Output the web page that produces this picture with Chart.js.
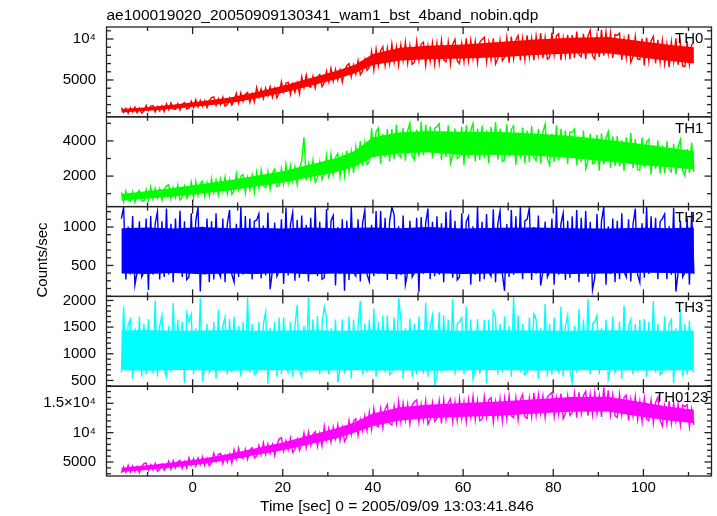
<!DOCTYPE html>
<html>
<head>
<meta charset="utf-8">
<script src="https://cdn.jsdelivr.net/npm/chart.js@4.4.0/dist/chart.umd.min.js"></script>
<style>
html,body{margin:0;padding:0;background:#ffffff;}
#wrap{width:717px;height:516px;position:relative;}
</style>
</head>
<body>
<div id="wrap"><canvas id="c" width="717" height="516"></canvas></div>
<script>
// ---- light-curve sampling (one rate value every 0.5 s) ----
const T0 = -15.8;
const DT = 0.5;

// ---- TH0 rate (counts/sec) ----
const th0Rate = [
1630,1030,1540,940,1600,1090,1690,1000,1570,970,
1200,1900,1260,1810,1870,1100,1740,1230,1840,1140,
2090,1370,2200,1480,1410,2130,1340,2060,2240,1450,
1590,2410,1670,2610,1710,2530,1790,2490,1630,2450,
2860,2950,1890,2720,1990,2910,1800,2030,2810,1940,
2430,3370,2170,3420,2380,3270,3470,2280,3320,2330,
4080,2940,3910,2770,4020,3050,4190,2880,3960,2820,
3430,4790,3550,4610,4730,3240,4480,3490,4670,3310,
5400,4060,5600,4260,4130,5470,4000,5340,5670,4200,
4650,6070,4790,6420,4860,6280,5000,6210,4720,6140,
6750,7000,5380,6830,5730,7330,5630,6100,7480,6150,
6580,8500,6200,8740,6750,8570,9060,6760,8890,6970,
9380,7140,9050,6810,9270,7370,9610,7030,9160,6920,
7160,9730,7390,9380,9620,6810,9150,7280,9500,6930,
9480,7080,9840,7440,7200,9600,6960,9360,9960,7320,
7000,9460,7250,10080,7370,9830,7620,9710,7130,9590,
9950,10210,7220,9560,7480,10080,6960,7610,9820,7350,
7770,10160,7100,10290,7630,9890,10430,7370,10030,7500,
10460,7800,10060,7400,10330,8070,10730,7670,10200,7540,
7800,10770,8070,10370,10640,7400,10100,7940,10500,7530,
10490,7690,10910,8110,7830,10630,7550,10350,11050,7970,
7530,10390,7820,11110,7960,10820,8250,10680,7680,10540,
10430,10720,7430,10000,7710,10570,7140,7860,10290,7570,
7480,10040,6770,10180,7340,9760,10320,7060,9900,7200,
9790,6990,9370,6570,9650,7270,10070,6850,9510,6710,
6630,9710,6910,9290,9570];

// ---- TH1 rate ----
const th1Rate = [
1070,530,1150,610,560,1100,510,1050,1180,590,
600,1220,660,1370,690,1310,750,1280,630,1250,
1450,1520,720,1350,790,1490,650,820,1420,750,
950,1650,760,1680,910,1570,1720,840,1610,880,
1870,1050,1750,930,1830,1130,1950,1010,1790,970,
1180,2130,1270,2000,2080,1050,1910,1220,2040,1090,
2220,1320,2350,1450,1360,2260,1270,2170,2400,1410,
1470,2430,1570,2670,1620,2580,1710,2530,1520,2480,
2840,4200,1750,2680,1850,2890,1640,1900,2790,1800,
2140,3170,1860,3230,2090,3060,3280,1970,3110,2030,
3450,2240,3390,2180,3650,2630,3980,2580,3860,2650,
2800,4720,3060,4540,4730,2700,4410,3060,4680,2820,
4670,2970,4920,3220,3050,4750,2880,4580,5010,3140,
2930,4650,3100,5080,3190,4910,3360,4820,3010,4730,
4800,4980,2910,4530,3090,4890,2730,3180,4710,3000,
3110,4800,2640,4890,3010,4610,4990,2830,4710,2920,
4880,3020,4600,2740,4790,3210,5070,2930,4700,2840,
2920,4940,3100,4670,4850,2640,4480,3010,4760,2740,
4590,2790,4860,3060,2880,4680,2700,4500,4950,2970,
2620,4420,2800,4870,2890,4690,3070,4600,2710,4510,
4500,4680,2610,4230,2790,4590,2430,2880,4410,2700,
2750,4350,2300,4440,2660,4170,4530,2480,4260,2570,
4290,2550,4030,2290,4200,2720,4460,2460,4110,2370,
2340,4190,2510,3940,4100,2090,3770,2420,4020,2170,
3750,2170,3990,2410,2250,3830,2090,3670,4070,2330,
2020,3530,2180,3910,2250];

// ---- TH2 rate ----
const th2Rate = [
1110,1260,316,1008,384,1144,248,418,1076,350,
418,1110,180,1144,384,1042,1200,316,1076,350,
1240,384,1042,282,1110,452,1212,350,1076,316,
350,1178,418,1076,1260,160,1008,384,1110,282,
1076,316,1178,418,350,1110,282,1042,1220,384,
282,1042,350,1260,384,1144,452,1110,316,1076,
1090,1170,330,1020,370,1190,190,430,1060,360,
430,1100,260,1250,370,1030,1190,300,1090,340,
1150,390,1030,290,1120,440,1260,360,1070,320,
340,1230,410,1080,1150,240,1000,390,1100,170,
1080,310,1260,410,360,1100,290,1050,1220,380,
290,1030,360,1210,390,1210,460,1120,310,1070,
1260,1160,320,1010,380,1150,250,410,1080,350,
410,1120,150,1130,390,1050,1240,320,1070,360,
1140,380,1050,280,1200,450,1220,340,1080,310,
350,1180,420,1070,1140,250,1010,380,1260,290,
1070,320,1170,410,360,1230,280,1040,1210,390,
170,1040,350,1220,380,1140,460,1260,320,1080,
1100,1250,310,1000,390,1150,240,420,1070,350,
420,1110,250,1260,380,1040,1180,310,1080,340,
1140,390,1220,280,1120,450,1210,350,1070,180,
340,1170,410,1080,1260,250,1010,390,1110,280,
1080,320,1180,420,350,1100,290,1040,1240,380,
280,1050,340,1260,390,1140,450,1120,320,1070,
1110,1170,320,1010,380,1250,160,410,1080,350,
410,1120,250,1200,390];

// ---- TH3 rate ----
const th3Rate = [
650,1880,730,1560,1640,530,1480,690,1700,570,
1560,610,1650,730,650,2000,570,1520,1720,690,
570,1520,650,1950,690,1640,770,1600,450,1760,
1600,1740,610,1480,690,2040,530,730,1560,650,
730,1600,530,1820,690,1520,1680,610,1650,650,
1700,690,1520,570,1600,770,2050,650,1560,610,
650,1600,730,1560,1780,440,1480,690,1600,570,
1680,610,1680,730,650,1600,570,1520,1920,690,
570,1520,650,2050,690,1640,770,1710,610,1560,
1880,1680,610,1480,690,1640,460,730,1640,650,
730,1700,530,1640,690,1520,1990,610,1560,650,
1640,690,1850,570,1600,770,1720,650,1720,610,
650,1680,730,2040,1640,530,1480,690,1660,570,
1560,610,1700,730,650,1960,570,1520,1720,440,
570,1780,650,1720,690,1640,770,2020,610,1560,
1600,1680,610,1890,690,1640,530,730,1650,650,
730,1640,450,1640,690,1800,1680,610,1560,650,
1700,690,1520,570,2060,770,1720,650,1560,610,
650,1680,730,1750,1640,530,1480,690,1940,570,
1560,610,1680,730,650,1880,570,1520,1720,690,
460,1520,650,1840,690,1640,770,2030,610,1560,
1600,1720,610,1480,690,1640,530,730,1700,650,
730,1600,530,1910,690,1520,1650,610,1560,650,
1640,690,1650,570,1600,770,1990,650,1560,610,
650,1700,730,1560,1640,450,1480,690,1830,570,
1560,610,1620,730,650];

// ---- TH0123 rate ----
const th0123Rate = [
3130,4170,3230,4430,3280,4320,3390,4270,3180,4220,
4710,4820,3530,4540,3650,4770,3420,3700,4650,3590,
4070,5150,3770,5210,4010,5030,5270,3890,5090,3950,
5770,4470,5570,4270,5700,4600,5900,4400,5640,4340,
4930,6510,5070,6300,6440,4710,6150,5000,6370,4790,
7120,5520,7360,5760,5600,7200,5440,7040,7440,5680,
6020,7820,6200,8270,6290,8090,6470,8000,6110,7910,
8950,9150,6850,8650,7050,9050,6650,7150,8850,6950,
7970,9950,7420,10060,7860,9730,10170,7640,9840,7750,
11100,8740,10740,8380,10980,8970,11330,8620,10860,8500,
9150,12050,9700,11980,12380,9520,12180,10330,12850,10300,
13450,10550,14100,11200,11000,14050,10850,13950,14800,11550,
11330,14530,11650,15330,11810,15010,12130,14850,11490,14690,
15250,15580,11790,14760,12120,15420,11460,12280,15090,11950,
12410,15430,11570,15600,12240,15090,15770,11900,15260,12070,
15770,12370,15260,11860,15600,12710,16110,12200,15430,12030,
12330,16110,12670,15600,15940,11810,15250,12500,15770,11990,
15810,12350,16330,12870,12520,15980,12170,15630,16500,12690,
12400,15900,12750,16780,12930,16430,13280,16250,12580,16080,
16480,16840,12740,15950,13100,16660,12390,13280,16300,12920,
13440,16680,12540,16860,13260,16320,17040,12900,16500,13080,
16830,13230,16290,12690,17700,13590,17190,13050,16470,12870,
12620,16540,12980,16000,16360,12090,15650,12800,16180,12260,
15330,11830,15850,12350,12000,15500,11650,15150,16030,12180,
11110,14510,11450,15360,11620,15020,11960,14850,11280,14680,
14450,14780,10990,13960,11320];

// ---- solid core of each noise band, read at these times ----
const coreTimes = [-15.8,-10,-4,2,8,14,20,26,32,36,40,46,52,60,68,76,84,92,100,106,111.2];
const th0CoreHi = [1450,1684,1999,2401,2833,3512,4287,5206,6121,6865,8165,8934,9176,9331,9617,9921,10156,10251,9698,9260,8980];
const th0CoreLo = [1030,1236,1501,1819,2167,2748,3433,4274,5119,5815,6835,7366,7524,7609,7783,8059,8224,8249,7702,7300,7020];
const th1CoreHi = [989,1157,1335,1553,1761,2015,2282,2661,3022,3448,4210,4495,4562,4515,4511,4424,4277,4073,3805,3603,3429];
const th1CoreLo = [611,723,845,1007,1179,1405,1638,1939,2238,2552,3090,3305,3358,3205,3209,3156,3023,2827,2615,2497,2371];
const th2CoreHi = [985,995,980,1000,985,990,980,995,985,990,995,985,1000,980,990,995,985,980,990,985,995];
const th2CoreLo = [395,390,400,385,395,390,400,385,395,390,395,385,400,390,395,400,390,395,405,400,395];
const th3CoreHi = [1435,1445,1430,1435,1445,1430,1435,1440,1430,1435,1445,1435,1445,1430,1440,1435,1430,1440,1435,1430,1435];
const th3CoreLo = [690,685,695,690,680,690,695,685,690,695,685,690,680,690,695,685,690,695,685,690,690];
const th0123CoreHi = [4014,4435,4940,5559,6368,7324,8301,9563,10733,11775,13250,14320,14755,15070,15308,15705,16053,16110,15132,14390,13905];
const th0123CoreLo = [3286,3665,4100,4641,5332,6176,6999,8037,9067,10025,11150,12080,12445,12690,12892,13255,13547,13590,12668,12010,11595];

// ---- panels, axes, labels ----
const panelNames = ['TH0', 'TH1', 'TH2', 'TH3', 'TH0123'];
const panelColors = ['#ff0000', '#00ff00', '#0000ff', '#00ffff', '#ff00ff'];
const yMins = [510, 266, 97, 392, 2615];
const yMaxs = [11460, 5371, 1266, 2076, 17913];
const yMinorSteps = [1000, 1000, 100, 100, 1000];
const yMajorValues = [[5000, 10000], [2000, 4000], [500, 1000], [500, 1000, 1500, 2000], [5000, 10000, 15000]];
const yMajorLabels = [['5000', '10⁴'], ['2000', '4000'], ['500', '1000'], ['500', '1000', '1500', '2000'], ['5000', '10⁴', '1.5×10⁴']];
const xMin = -19.1, xMax = 115.1;
const xTickStep = 10;
const xLabelValues = [0, 20, 40, 60, 80, 100];
const chartTitle = 'ae100019020_20050909130341_wam1_bst_4band_nobin.qdp';
const yTitle = 'Counts/sec';
const xTitle = 'Time [sec] 0 = 2005/09/09 13:03:41.846';

const rates = [th0Rate, th1Rate, th2Rate, th3Rate, th0123Rate];
const coreHi = [th0CoreHi, th1CoreHi, th2CoreHi, th3CoreHi, th0123CoreHi];
const coreLo = [th0CoreLo, th1CoreLo, th2CoreLo, th3CoreLo, th0123CoreLo];

const FONT = "'Liberation Sans', Arial, Helvetica, sans-serif";
Chart.defaults.font.family = FONT;
Chart.defaults.color = '#000';

const ratePts = arr => arr.map((v, i) => ({x: T0 + i * DT, y: v}));
const corePts = arr => arr.map((v, j) => ({x: coreTimes[j], y: v}));

const datasets = [];
panelNames.forEach((name, k) => {
  const col = panelColors[k];
  datasets.push({
    label: name + ' core low', data: corePts(coreLo[k]), yAxisID: 'y' + k, order: 1,
    borderColor: col, backgroundColor: col, borderWidth: 0, pointRadius: 0, tension: 0, fill: false
  });
  datasets.push({
    label: name + ' core high', data: corePts(coreHi[k]), yAxisID: 'y' + k, order: 1,
    borderColor: col, backgroundColor: col, borderWidth: 0, pointRadius: 0, tension: 0, fill: '-1'
  });
  datasets.push({
    label: name, data: ratePts(rates[k]), yAxisID: 'y' + k, order: 0,
    borderColor: col, backgroundColor: col, borderWidth: 1.4, pointRadius: 0, tension: 0, fill: false
  });
});

const scales = {
  x: {
    type: 'linear', position: 'bottom', min: xMin, max: xMax,
    grid: {display: false, drawTicks: false}, border: {display: false},
    afterFit: s => { s.height = 40; },
    afterBuildTicks: s => {
      const t = [];
      for (let v = Math.ceil(xMin / xTickStep) * xTickStep; v <= xMax; v += xTickStep) t.push({value: v});
      s.ticks = t;
    },
    ticks: {
      autoSkip: false, maxRotation: 0, padding: 3, color: '#000', font: {size: 15},
      callback: v => xLabelValues.includes(v) ? String(v) : ''
    }
  }
};
panelNames.forEach((name, k) => {
  scales['y' + k] = {
    type: 'linear', position: 'left', stack: 'panels', stackWeight: 1, weight: 5 - k,
    min: yMins[k], max: yMaxs[k], offset: false,
    grid: {display: false, drawTicks: false}, border: {display: false},
    afterFit: s => { s.width = 106.5; },
    afterBuildTicks: s => {
      const st = yMinorSteps[k], t = [];
      for (let v = Math.ceil(yMins[k] / st) * st; v <= yMaxs[k]; v += st) t.push({value: v});
      s.ticks = t;
    },
    ticks: {
      autoSkip: false, padding: 10.5, color: '#000', font: {size: 15},
      callback: v => {
        const idx = yMajorValues[k].indexOf(v);
        return idx >= 0 ? yMajorLabels[k][idx] : '';
      }
    }
  };
});

const framePlugin = {
  id: 'qdpFrames',
  afterDraw(chart) {
    const {ctx, chartArea} = chart;
    const xs = chart.scales.x;
    const L = chartArea.left, R = chartArea.right;
    ctx.save();
    ctx.strokeStyle = '#222';
    ctx.lineWidth = 1.3;
    const seg = (x1, y1, x2, y2) => { ctx.beginPath(); ctx.moveTo(x1, y1); ctx.lineTo(x2, y2); ctx.stroke(); };
    panelNames.forEach((name, k) => {
      const ys = chart.scales['y' + k];
      const T = ys.top, B = ys.bottom;
      ctx.strokeRect(L, T, R - L, B - T);
      ys.ticks.forEach(t => {
        const y = ys.getPixelForValue(t.value);
        const len = yMajorValues[k].includes(t.value) ? 7 : 4.5;
        seg(L, y, L + len, y);
        seg(R, y, R - len, y);
      });
      xs.ticks.forEach(t => {
        const x = xs.getPixelForValue(t.value);
        const len = xLabelValues.includes(t.value) ? 7 : 4;
        seg(x, T, x, T + len);
        seg(x, B, x, B - len);
      });
      ctx.fillStyle = '#000';
      ctx.font = '15px ' + FONT;
      ctx.textAlign = 'left';
      ctx.textBaseline = 'alphabetic';
      const off = name.length > 3 ? 56.5 : 36.5;
      ctx.fillText(name, R - off, T + 15.7);
    });
    ctx.fillStyle = '#000';
    ctx.font = '15.5px ' + FONT;
    ctx.textAlign = 'left';
    ctx.textBaseline = 'alphabetic';
    ctx.fillText(xTitle, 260, 511);
    ctx.save();
    ctx.translate(46.5, 260);
    ctx.rotate(-Math.PI / 2);
    ctx.textAlign = 'center';
    ctx.font = '15px ' + FONT;
    ctx.fillText(yTitle, 0, 0);
    ctx.restore();
    ctx.restore();
  }
};

new Chart(document.getElementById('c'), {
  type: 'line',
  data: {datasets},
  options: {
    responsive: false,
    animation: false,
    events: [],
    layout: {padding: {left: 0, right: 5.5, top: 0, bottom: 0}},
    plugins: {
      legend: {display: false},
      tooltip: {enabled: false},
      title: {
        display: true, text: chartTitle, align: 'start', fullSize: false,
        color: '#000', font: {size: 15.5, weight: 'normal', lineHeight: 1.2},
        padding: {top: 6, bottom: 2.4}
      }
    },
    scales
  },
  plugins: [framePlugin]
});
</script>
</body>
</html>
